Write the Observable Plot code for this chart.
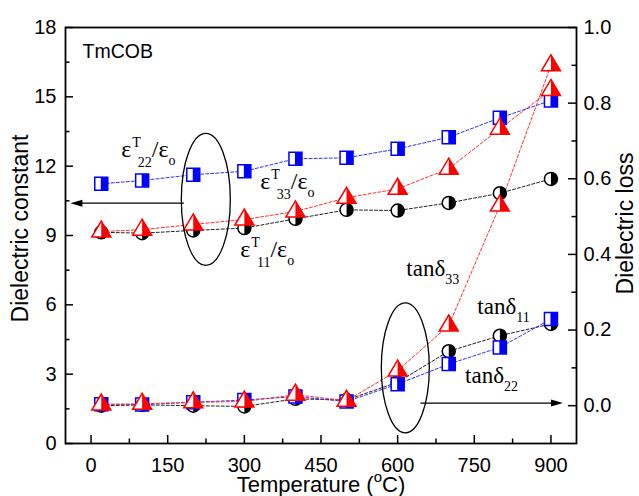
<!DOCTYPE html>
<html><head><meta charset="utf-8">
<script src="https://cdn.jsdelivr.net/npm/d3@7"></script>
<script src="https://cdn.jsdelivr.net/npm/@observablehq/plot@0.6"></script>
<style>
html,body{margin:0;padding:0;background:#fff;}
#chart svg{display:block;}
</style></head><body><div id="chart"></div>
<script>
// ---- data ----
const temps = [20, 100, 200, 300, 400, 500, 600, 700, 800, 900];
const eps11 = [9.14, 9.10, 9.22, 9.32, 9.72, 10.11, 10.08, 10.41, 10.83, 11.45];
const eps22 = [11.24, 11.38, 11.63, 11.78, 12.32, 12.36, 12.75, 13.25, 14.09, 14.84];
const eps33 = [9.17, 9.25, 9.48, 9.69, 10.04, 10.63, 11.02, 11.89, 13.62, 15.30];
const tan11 = [0.000, 0.002, 0.000, -0.002, 0.018, 0.015, 0.062, 0.144, 0.185, 0.216];
const tan22 = [0.004, 0.003, 0.009, 0.015, 0.024, 0.011, 0.057, 0.110, 0.154, 0.229];
const tan33 = [0.003, 0.005, 0.009, 0.011, 0.029, 0.013, 0.093, 0.212, 0.529, 0.900];

const xTicks = [0, 150, 300, 450, 600, 750, 900];
const xMinor = [75, 225, 375, 525, 675, 825];
const yLeftTicks = [0, 3, 6, 9, 12, 15, 18];
const yLeftMinor = [1.5, 4.5, 7.5, 10.5, 13.5, 16.5];
const yRightTicks = [0.0, 0.2, 0.4, 0.6, 0.8, 1.0];
const yRightMinor = [0.1, 0.3, 0.5, 0.7, 0.9];

// annotations (x in °C, y in left-axis units or right-axis units)
const epsLabels = [
  {x: 59, y: 12.38, sub: "22"},
  {x: 331, y: 11.03, sub: "33"},
  {x: 292, y: 8.05, sub: "11"}
];
const tanLabels = [
  {x: 617, y: 0.344, sub: "33"},
  {x: 756, y: 0.243, sub: "11"},
  {x: 732, y: 0.061, sub: "22"}
];
const ellipsesLeft = [{x: 224.6, y: 10.56}];
const ellipsesRight = [{x: 615, y: 0.10}];
const arrowLeft = {x1: 182.5, x2: -40.5, y: 10.4};
const arrowRight = {x1: 645.7, x2: 923.5, y: 0.007};

// ---- helpers ----
const xDom = [-50, 950], yDom = [0, 18], rDom = [-0.1, 1.0];
const toL = t => (t - rDom[0]) * (yDom[1] - yDom[0]) / (rDom[1] - rDom[0]);
const fromL = v => v * (rDom[1] - rDom[0]) / (yDom[1] - yDom[0]) + rDom[0];
const W = 639, H = 496, mL = 65, mR = 63, mT = 27, mB = 53;
const pxX = (xDom[1] - xDom[0]) / (W - mL - mR);
const pxY = (yDom[1] - yDom[0]) / (H - mT - mB);

const series = (ys, right) => temps.map((t, i) => ({t, v: right ? toL(ys[i]) : ys[i]}));
const s11 = series(eps11), s22 = series(eps22), s33 = series(eps33);
const d11 = series(tan11, true), d22 = series(tan22, true), d33 = series(tan33, true);

// custom symbols
const sqFull = {draw(c){ const h = 6.5; c.moveTo(-h,-h); c.lineTo(h,-h); c.lineTo(h,h); c.lineTo(-h,h); c.closePath(); }};
const sqHalf = {draw(c){ const h = 6.5; c.moveTo(-0.5,-h); c.lineTo(h,-h); c.lineTo(h,h); c.lineTo(-0.5,h); c.closePath(); }};
const triFull = {draw(c){ c.moveTo(0,-10.5); c.lineTo(9.5,5.5); c.lineTo(-9.5,5.5); c.closePath(); }};
const triHalf = {draw(c){ c.moveTo(0,-10.5); c.lineTo(9.5,5.5); c.lineTo(0,5.5); c.closePath(); }};
const cirFull = {draw(c){ c.moveTo(6.5,0); c.arc(0,0,6.5,0,2*Math.PI); c.closePath(); }};
const cirHalf = {draw(c){ c.moveTo(0,-6.5); c.arc(0,0,6.5,-Math.PI/2,Math.PI/2); c.closePath(); }};
const ellipse = (rx, ry) => ({draw(c){
  const k = 0.5522847498;
  c.moveTo(rx,0);
  c.bezierCurveTo(rx, ry*k, rx*k, ry, 0, ry);
  c.bezierCurveTo(-rx*k, ry, -rx, ry*k, -rx, 0);
  c.bezierCurveTo(-rx, -ry*k, -rx*k, -ry, 0, -ry);
  c.bezierCurveTo(rx*k, -ry, rx, -ry*k, rx, 0);
  c.closePath();
}});
const headR = {draw(c){ c.moveTo(0,0); c.lineTo(-12,-3.5); c.lineTo(-12,3.5); c.closePath(); }};
const headL = {draw(c){ c.moveTo(0,0); c.lineTo(12,-3.5); c.lineTo(12,3.5); c.closePath(); }};

const BLUE = "#0000ff", RED = "#ff0000", BLACK = "#000";
const lineOpts = (stroke) => ({x: "t", y: "v", stroke, strokeWidth: 1, strokeDasharray: "3,2"});
const markers = (data, full, half, color) => [
  Plot.dot(data, {x: "t", y: "v", symbol: full, fill: "white", stroke: color, strokeWidth: 1.5, r: 6}),
  Plot.dot(data, {x: "t", y: "v", symbol: half, fill: color, stroke: "none", r: 6})
];

const serif = "'Liberation Serif','Times New Roman',serif";
const sans = "'Liberation Sans',Arial,sans-serif";

const plot = Plot.plot({
  width: W, height: H,
  marginLeft: mL, marginRight: mR, marginTop: mT, marginBottom: mB,
  x: {domain: xDom, axis: null},
  y: {domain: yDom, axis: null},
  style: {fontFamily: sans, fontSize: "20px", color: "black", background: "white"},
  marks: [
    // lines
    Plot.line(s11, lineOpts("#222")),
    Plot.line(s33, lineOpts("#ff3030")),
    Plot.line(s22, lineOpts("#3030ff")),
    Plot.line(d11, lineOpts("#222")),
    Plot.line(d22, lineOpts("#3030ff")),
    Plot.line(d33, lineOpts("#ff3030")),
    // markers
    ...markers(s11, cirFull, cirHalf, BLACK),
    ...markers(d11, cirFull, cirHalf, BLACK),
    ...markers(s22, sqFull, sqHalf, BLUE),
    ...markers(d22, sqFull, sqHalf, BLUE),
    ...markers(s33, triFull, triHalf, RED),
    ...markers(d33, triFull, triHalf, RED),
    // ellipses
    Plot.dot(ellipsesLeft, {x: "x", y: "y", symbol: ellipse(24.5, 66), fill: "none", stroke: "black", strokeWidth: 1.3}),
    Plot.dot(ellipsesRight, {x: "x", y: d => toL(d.y), symbol: ellipse(24, 65), fill: "none", stroke: "black", strokeWidth: 1.3}),
    // arrows
    Plot.ruleY([arrowLeft], {x1: "x1", x2: d => d.x2 + 6 * pxX, y: "y", stroke: "black", strokeWidth: 1.3}),
    Plot.dot([arrowLeft], {x: "x2", y: "y", symbol: headL, fill: "black", stroke: "none"}),
    Plot.ruleY([arrowRight], {x1: "x1", x2: d => d.x2 - 6 * pxX, y: d => toL(d.y), stroke: "black", strokeWidth: 1.3}),
    Plot.dot([arrowRight], {x: "x2", y: d => toL(d.y), symbol: headR, fill: "black", stroke: "none"}),
    // labels
    Plot.text(epsLabels, {x: "x", y: "y", text: d => "ε", textAnchor: "start", lineAnchor: "bottom", fontFamily: serif, fontSize: 24, fill: "black", className: "rich-eps"}),
    Plot.text(tanLabels, {x: "x", y: d => toL(d.y), text: d => "tanδ", textAnchor: "start", lineAnchor: "bottom", fontFamily: serif, fontSize: 23, fill: "black", className: "rich-tan"}),
    Plot.text(["TmCOB"], {frameAnchor: "top-left", dx: 17, dy: 30, lineAnchor: "bottom", textAnchor: "start", fontSize: 19.5, fill: "black"}),
    // axis titles
    Plot.text(["Dielectric constant"], {frameAnchor: "left", dx: -45, dy: -7, rotate: -90, textAnchor: "middle", lineAnchor: "middle", fontSize: 23, fill: "black"}),
    Plot.text(["Dielectric loss"], {frameAnchor: "right", dx: 49, dy: -12, rotate: -90, textAnchor: "middle", lineAnchor: "middle", fontSize: 23, fill: "black"}),
    Plot.text(["Temperature (oC)"], {frameAnchor: "bottom", dy: 41, textAnchor: "middle", lineAnchor: "middle", fontSize: 22, fill: "black", className: "rich-temp"}),
    // inward ticks
    Plot.ruleX(xTicks, {x: d => d, y1: yDom[0], y2: yDom[0] + 8 * pxY, stroke: "black", strokeWidth: 1.5}),
    Plot.ruleX(xMinor, {x: d => d, y1: yDom[0], y2: yDom[0] + 4.5 * pxY, stroke: "black", strokeWidth: 1.5}),
    Plot.ruleY(yLeftTicks, {y: d => d, x1: xDom[0], x2: xDom[0] + 8 * pxX, stroke: "black", strokeWidth: 1.5}),
    Plot.ruleY(yLeftMinor, {y: d => d, x1: xDom[0], x2: xDom[0] + 4.5 * pxX, stroke: "black", strokeWidth: 1.5}),
    Plot.ruleY(yRightTicks, {y: d => toL(d), x1: xDom[1] - 8 * pxX, x2: xDom[1], stroke: "black", strokeWidth: 1.5}),
    Plot.ruleY(yRightMinor, {y: d => toL(d), x1: xDom[1] - 4.5 * pxX, x2: xDom[1], stroke: "black", strokeWidth: 1.5}),
    // tick labels
    Plot.axisX({ticks: xTicks, tickSize: 0, tickPadding: 14, label: null, tickFormat: d => String(d)}),
    Plot.axisY({anchor: "left", ticks: yLeftTicks, tickSize: 0, tickPadding: 9, label: null, tickFormat: d => String(d)}),
    Plot.axisY({anchor: "right", ticks: yRightTicks.map(toL), tickSize: 0, tickPadding: 7, label: null,
      tickFormat: d => (Math.round(fromL(d) * 10) / 10).toFixed(1)}),
    Plot.frame({stroke: "black", strokeWidth: 1.8})
  ]
});

// rich text (super/subscripts)
function setRich(textEl, parts) {
  const t = d3.select(textEl);
  t.text(null);
  let cur = 0;
  for (const p of parts) {
    const target = p.shift || 0;
    const ts = t.append("tspan").text(p.t).attr("dy", (target - cur) + "px");
    if (p.size) ts.attr("font-size", p.size + "px");
    if (p.dx) ts.attr("dx", p.dx + "px");
    cur = target;
  }
}
d3.select(plot).selectAll(".rich-eps text").each(function(d, i) {
  const L = epsLabels[typeof d === "number" ? d : i];
  setRich(this, [
    {t: "ε"},
    {t: "T", shift: -10, size: 14, dx: 1},
    {t: L.sub, shift: 10, size: 14, dx: -3},
    {t: "/ε"},
    {t: "o", shift: 8, size: 14}
  ]);
});
d3.select(plot).selectAll(".rich-tan text").each(function(d, i) {
  const L = tanLabels[typeof d === "number" ? d : i];
  setRich(this, [
    {t: "tanδ"},
    {t: L.sub, shift: 8, size: 14}
  ]);
});
d3.select(plot).selectAll(".rich-temp text").each(function() {
  setRich(this, [
    {t: "Temperature ("},
    {t: "o", shift: -10, size: 15},
    {t: "C)", shift: 0}
  ]);
});

document.getElementById("chart").appendChild(plot);
</script>
</body></html>
